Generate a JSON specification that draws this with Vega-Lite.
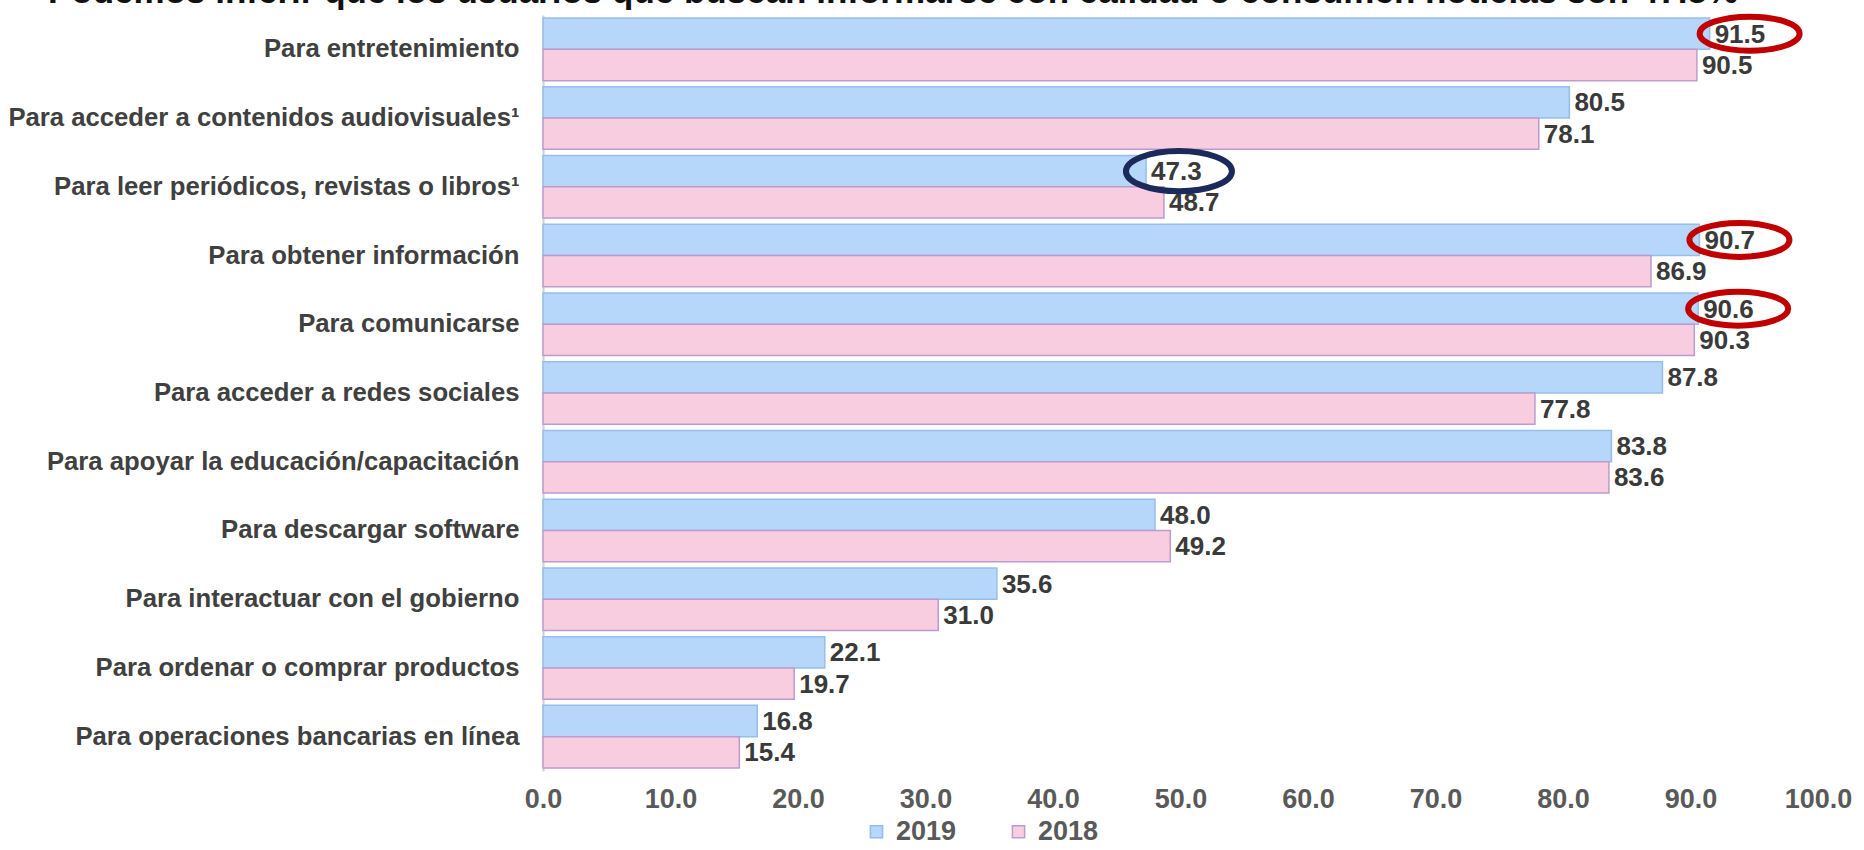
{
  "$schema": "https://vega.github.io/schema/vega-lite/v6.json",
  "width": 1275,
  "height": 756,
  "autosize": "none",
  "padding": {"left": 543, "top": 15, "right": 46, "bottom": 79},
  "background": "white",
  "config": {
    "font": "Liberation Sans",
    "view": {"stroke": null}
  },
  "title": {
    "text": "Podemos inferir que los usuarios que buscan informarse con calidad o consumen noticias son 47.3%",
    "anchor": "start",
    "frame": "group",
    "dx": -495,
    "dy": 33,
    "offset": 0,
    "baseline": "alphabetic",
    "fontSize": 35,
    "fontWeight": "bold",
    "color": "#111111"
  },
  "datasets": {
    "usos": [
      {"categoria": "Para entretenimiento", "año": "2019", "porcentaje": 91.5},
      {"categoria": "Para entretenimiento", "año": "2018", "porcentaje": 90.5},
      {"categoria": "Para acceder a contenidos audiovisuales¹", "año": "2019", "porcentaje": 80.5},
      {"categoria": "Para acceder a contenidos audiovisuales¹", "año": "2018", "porcentaje": 78.1},
      {"categoria": "Para leer periódicos, revistas o libros¹", "año": "2019", "porcentaje": 47.3},
      {"categoria": "Para leer periódicos, revistas o libros¹", "año": "2018", "porcentaje": 48.7},
      {"categoria": "Para obtener información", "año": "2019", "porcentaje": 90.7},
      {"categoria": "Para obtener información", "año": "2018", "porcentaje": 86.9},
      {"categoria": "Para comunicarse", "año": "2019", "porcentaje": 90.6},
      {"categoria": "Para comunicarse", "año": "2018", "porcentaje": 90.3},
      {"categoria": "Para acceder a redes sociales", "año": "2019", "porcentaje": 87.8},
      {"categoria": "Para acceder a redes sociales", "año": "2018", "porcentaje": 77.8},
      {"categoria": "Para apoyar la educación/capacitación", "año": "2019", "porcentaje": 83.8},
      {"categoria": "Para apoyar la educación/capacitación", "año": "2018", "porcentaje": 83.6},
      {"categoria": "Para descargar software", "año": "2019", "porcentaje": 48.0},
      {"categoria": "Para descargar software", "año": "2018", "porcentaje": 49.2},
      {"categoria": "Para interactuar con el gobierno", "año": "2019", "porcentaje": 35.6},
      {"categoria": "Para interactuar con el gobierno", "año": "2018", "porcentaje": 31.0},
      {"categoria": "Para ordenar o comprar productos", "año": "2019", "porcentaje": 22.1},
      {"categoria": "Para ordenar o comprar productos", "año": "2018", "porcentaje": 19.7},
      {"categoria": "Para operaciones bancarias en línea", "año": "2019", "porcentaje": 16.8},
      {"categoria": "Para operaciones bancarias en línea", "año": "2018", "porcentaje": 15.4}
    ],
    "destacados": [
      {"categoria": "Para entretenimiento", "año": "2019", "porcentaje": 91.5, "marca": "rojo"},
      {"categoria": "Para obtener información", "año": "2019", "porcentaje": 90.7, "marca": "rojo"},
      {"categoria": "Para comunicarse", "año": "2019", "porcentaje": 90.6, "marca": "rojo"},
      {"categoria": "Para leer periódicos, revistas o libros¹", "año": "2019", "porcentaje": 47.3, "marca": "azul"}
    ]
  },
  "encoding": {
    "y": {
      "field": "categoria",
      "type": "nominal",
      "sort": null,
      "scale": {
        "domain": [
          "Para entretenimiento",
          "Para acceder a contenidos audiovisuales¹",
          "Para leer periódicos, revistas o libros¹",
          "Para obtener información",
          "Para comunicarse",
          "Para acceder a redes sociales",
          "Para apoyar la educación/capacitación",
          "Para descargar software",
          "Para interactuar con el gobierno",
          "Para ordenar o comprar productos",
          "Para operaciones bancarias en línea"
        ],
        "paddingInner": 0.09,
        "paddingOuter": 0.045
      },
      "axis": {
        "title": null,
        "ticks": false,
        "domain": true,
        "domainColor": "#d0d0d0",
        "domainWidth": 2,
        "labelFontSize": 25.7,
        "labelFontWeight": "bold",
        "labelColor": "#404040",
        "labelPadding": 24,
        "labelLimit": 600
      }
    },
    "yOffset": {
      "field": "año",
      "type": "nominal",
      "sort": ["2019", "2018"],
      "scale": {"domain": ["2019", "2018"], "paddingInner": 0, "paddingOuter": 0}
    },
    "x": {
      "field": "porcentaje",
      "type": "quantitative",
      "scale": {"domain": [0, 100], "nice": false},
      "axis": {
        "title": null,
        "values": [0, 10, 20, 30, 40, 50, 60, 70, 80, 90, 100],
        "format": ".1f",
        "grid": false,
        "ticks": false,
        "domain": false,
        "labelFontSize": 27,
        "labelFontWeight": "bold",
        "labelColor": "#595959",
        "labelPadding": 15,
        "labelFlush": false
      }
    }
  },
  "layer": [
    {
      "data": {"name": "usos"},
      "mark": {"type": "bar", "strokeWidth": 1.5},
      "encoding": {
        "fill": {
          "field": "año",
          "type": "nominal",
          "scale": {"domain": ["2019", "2018"], "range": ["#B6D6FA", "#F9CDE0"]},
          "legend": {
            "orient": "none",
            "legendX": 320,
            "legendY": 803,
            "direction": "horizontal",
            "title": null,
            "labelFontSize": 27,
            "labelFontWeight": "bold",
            "labelColor": "#595959",
            "symbolType": "square",
            "symbolSize": 150,
            "symbolStrokeWidth": 1.5,
            "labelOffset": 6,
            "columnPadding": 48
          }
        },
        "stroke": {
          "field": "año",
          "type": "nominal",
          "scale": {"domain": ["2019", "2018"], "range": ["#96BEEA", "#BC9CCE"]}
        }
      }
    },
    {
      "data": {"name": "usos"},
      "mark": {"type": "text", "align": "left", "baseline": "middle", "dx": 5, "dy": 1, "fontSize": 26, "fontWeight": "bold", "color": "#3a3a3a"},
      "encoding": {
        "text": {"field": "porcentaje", "type": "quantitative", "format": ".1f"}
      }
    },
    {
      "data": {"name": "destacados"},
      "transform": [{"filter": "datum.marca === 'rojo'"}],
      "mark": {
        "type": "point",
        "filled": false,
        "shape": "M -0.2 0 A 1 0.34 0 1 0 1.8 0 A 1 0.34 0 1 0 -0.2 0 Z",
        "size": 10000,
        "stroke": "#C00000",
        "strokeWidth": 6,
        "opacity": 1
      },
      "encoding": {}
    },
    {
      "data": {"name": "destacados"},
      "transform": [{"filter": "datum.marca === 'azul'"}],
      "mark": {
        "type": "point",
        "filled": false,
        "shape": "M -0.38 0 A 1 0.38 0 1 0 1.62 0 A 1 0.38 0 1 0 -0.38 0 Z",
        "size": 11236,
        "stroke": "#1B2A5A",
        "strokeWidth": 6,
        "opacity": 1
      },
      "encoding": {}
    }
  ]
}
